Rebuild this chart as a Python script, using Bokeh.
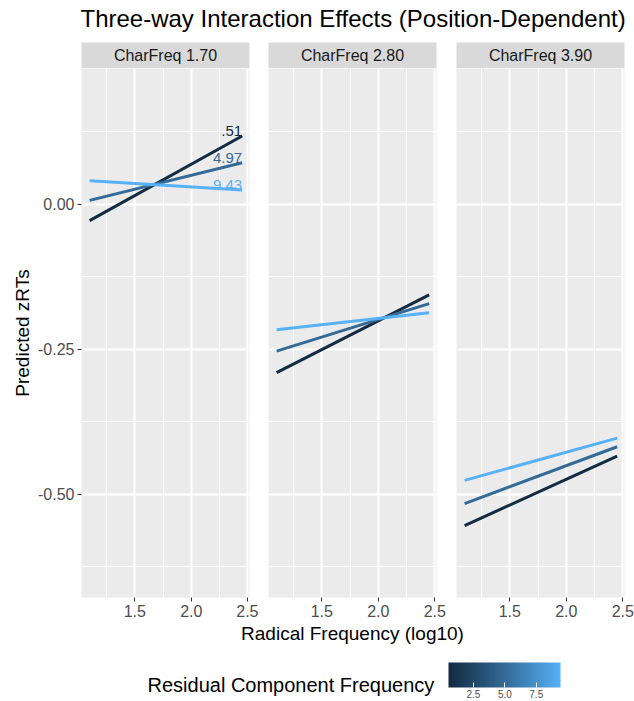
from bokeh.plotting import figure
from bokeh.layouts import column, row
from bokeh.models import (Range1d, FixedTicker, PrintfTickFormatter, ColumnDataSource,
                          LinearColorMapper, ColorBar, Label)
from bokeh.core.properties import value
from bokeh.embed import file_html
from bokeh.resources import INLINE

# ---------------- data ----------------
title_text = "Three-way Interaction Effects (Position-Dependent)"
panel_names = ["CharFreq 1.70", "CharFreq 2.80", "CharFreq 3.90"]
resid_levels = [0.51, 4.97, 9.43]
resid_labels = [".51", "4.97", "9.43"]
radical_freq = [1.10, 2.45]          # x at line start / end
# predicted zRTs at radical_freq, rows = residual level 0.51, 4.97, 9.43
pred_cf170 = [[-0.028, 0.118], [0.007, 0.072], [0.041, 0.025]]
pred_cf280 = [[-0.290, -0.156], [-0.253, -0.171], [-0.216, -0.187]]
pred_cf390 = [[-0.554, -0.434], [-0.516, -0.418], [-0.476, -0.403]]
x_ticks = [1.5, 2.0, 2.5]
x_minor = [1.25, 1.75, 2.25]
y_ticks = [0.0, -0.25, -0.5]
y_minor = [0.125, -0.125, -0.375, -0.625]
legend_ticks = [2.5, 5.0, 7.5]

FONT = "Liberation Sans"

# ---------------- colour scale (Lab interpolation like ggplot) ----------------
Xn, Yn, Zn = 0.95047, 1.0, 1.08883


def hex_to_lab(h):
    r, g, b = [int(h[i:i + 2], 16) / 255 for i in (1, 3, 5)]

    def lin(c):
        return c / 12.92 if c <= 0.04045 else ((c + 0.055) / 1.055) ** 2.4
    r, g, b = lin(r), lin(g), lin(b)
    X = 0.4124 * r + 0.3576 * g + 0.1805 * b
    Y = 0.2126 * r + 0.7152 * g + 0.0722 * b
    Z = 0.0193 * r + 0.1192 * g + 0.9505 * b

    def f(t):
        return t ** (1 / 3) if t > 0.008856 else 7.787 * t + 16 / 116
    fx, fy, fz = f(X / Xn), f(Y / Yn), f(Z / Zn)
    return 116 * fy - 16, 500 * (fx - fy), 200 * (fy - fz)


def lab_to_hex(L, a, b):
    fy = (L + 16) / 116
    fx = fy + a / 500
    fz = fy - b / 200

    def finv(t):
        return t ** 3 if t ** 3 > 0.008856 else (t - 16 / 116) / 7.787
    X, Y, Z = finv(fx) * Xn, finv(fy) * Yn, finv(fz) * Zn
    r = 3.2406 * X - 1.5372 * Y - 0.4986 * Z
    g = -0.9689 * X + 1.8758 * Y + 0.0415 * Z
    bb = 0.0557 * X - 0.2040 * Y + 1.0570 * Z

    def gam(c):
        c = 12.92 * c if c <= 0.0031308 else 1.055 * c ** (1 / 2.4) - 0.055
        return max(0, min(255, round(c * 255)))
    return "#%02x%02x%02x" % (gam(r), gam(g), gam(bb))


lo, hi = hex_to_lab("#132B43"), hex_to_lab("#56B1F7")
palette = [lab_to_hex(*[lo[k] + (hi[k] - lo[k]) * i / 255 for k in range(3)]) for i in range(256)]
mapper = LinearColorMapper(palette=palette, low=min(resid_levels), high=max(resid_levels))

# ---------------- geometry ----------------
FRAME_W, FRAME_H = 168, 529
BOTTOM = 26
borders = [(81, 9), (10, 10), (10, 10)]
X_RANGE = (1.028, 2.515)
Y_RANGE = (-0.678, 0.2345)


def style_blank(p):
    p.xaxis.visible = False
    p.yaxis.visible = False
    p.xgrid.visible = False
    p.ygrid.visible = False
    p.outline_line_color = None


# ---------------- header ----------------
header = figure(frame_width=634, frame_height=42, x_range=Range1d(0, 634), y_range=Range1d(42, 0),
                output_backend="svg", toolbar_location=None,
                min_border_left=0, min_border_right=0, min_border_top=0, min_border_bottom=0)
style_blank(header)
header.add_layout(Label(x=80, y=18, text=title_text, text_align="left", text_baseline="middle",
                        text_font=FONT, text_font_size="24px", text_color="black"))

# ---------------- strips & panels ----------------
strips, panels = [], []
all_preds = [pred_cf170, pred_cf280, pred_cf390]
for i, (name, preds) in enumerate(zip(panel_names, all_preds)):
    bl, br = borders[i]
    s = figure(frame_width=FRAME_W, frame_height=26, x_range=Range1d(0, 1), y_range=Range1d(0, 1),
               output_backend="svg", toolbar_location=None,
               min_border_left=bl, min_border_right=br, min_border_top=0, min_border_bottom=0)
    style_blank(s)
    s.background_fill_color = "#D9D9D9"
    s.add_layout(Label(x=0.5, y=0.5, text=name, text_align="center", text_baseline="middle",
                       text_font=FONT, text_font_size="16px", text_color="#1A1A1A"))
    strips.append(s)

    p = figure(frame_width=FRAME_W, frame_height=FRAME_H,
               x_range=Range1d(*X_RANGE), y_range=Range1d(*Y_RANGE),
               output_backend="svg", toolbar_location=None,
               min_border_left=bl, min_border_right=br, min_border_top=0, min_border_bottom=BOTTOM)
    p.background_fill_color = "#EBEBEB"
    p.border_fill_color = "white"
    p.outline_line_color = None

    src = ColumnDataSource(dict(xs=[radical_freq] * len(preds), ys=preds, resid=resid_levels,
                                xe=[radical_freq[-1]] * len(preds), ye=[r[-1] for r in preds],
                                lab=resid_labels))
    p.multi_line("xs", "ys", source=src, line_width=3,
                 line_color={"field": "resid", "transform": mapper})
    if i == 0:
        p.text("xe", "ye", text="lab", source=src, text_align="right", text_baseline="alphabetic",
               y_offset=-5, text_font_size="15px", text_font=value(FONT),
               text_color={"field": "resid", "transform": mapper})

    # grids
    p.xgrid.ticker = FixedTicker(ticks=x_ticks, minor_ticks=x_minor)
    p.ygrid.ticker = FixedTicker(ticks=y_ticks, minor_ticks=y_minor)
    for g in (p.xgrid, p.ygrid):
        g.grid_line_color = "white"
        g.grid_line_width = 2
        g.minor_grid_line_color = "white"
        g.minor_grid_line_width = 1

    # axes
    p.xaxis.ticker = FixedTicker(ticks=x_ticks)
    p.xaxis.formatter = PrintfTickFormatter(format="%.1f")
    p.yaxis.ticker = FixedTicker(ticks=y_ticks)
    p.yaxis.formatter = PrintfTickFormatter(format="%.2f")
    for ax in (p.xaxis, p.yaxis):
        ax.axis_line_color = None
        ax.major_tick_line_color = "#333333"
        ax.major_tick_out = 4
        ax.major_tick_in = 0
        ax.minor_tick_line_color = None
        ax.major_label_text_font = FONT
        ax.major_label_text_font_size = "16px"
        ax.major_label_text_color = "#4D4D4D"
        ax.major_label_standoff = 3
        ax.axis_label_text_font = FONT
        ax.axis_label_text_font_size = "19px"
        ax.axis_label_text_font_style = "normal"
        ax.axis_label_text_color = "black"
        ax.axis_label_standoff = 2
    if i == 0:
        p.yaxis.axis_label = "Predicted zRTs"
    else:
        p.yaxis.visible = False
    panels.append(p)

# ---------------- bottom: x-axis title + legend ----------------
LEG_H = 701 - 42 - 26 - FRAME_H - BOTTOM
leg = figure(frame_width=634, frame_height=LEG_H, x_range=Range1d(0, 634), y_range=Range1d(LEG_H, 0),
             output_backend="svg", toolbar_location=None,
             min_border_left=0, min_border_right=0, min_border_top=0, min_border_bottom=0)
style_blank(leg)
leg.add_layout(Label(x=352, y=10, text="Radical Frequency (log10)", text_align="center",
                     text_baseline="middle", text_font=FONT, text_font_size="19px",
                     text_color="black"))
leg.add_layout(Label(x=147, y=61, text="Residual Component Frequency", text_align="left",
                     text_baseline="middle", text_font=FONT, text_font_size="20px",
                     text_color="black"))
cb = ColorBar(color_mapper=mapper, orientation="horizontal", width=112, height=25,
              location=(448, 1), padding=0, margin=0,
              ticker=FixedTicker(ticks=legend_ticks), formatter=PrintfTickFormatter(format="%.1f"),
              major_tick_line_color="white", major_tick_in=5, major_tick_out=0,
              minor_tick_line_color=None, bar_line_color=None,
              major_label_text_font=FONT, major_label_text_font_size="10px",
              major_label_text_color="#4D4D4D", label_standoff=2,
              background_fill_color=None, border_line_color=None)
leg.add_layout(cb, "center")

layout = column(header, row(*strips), row(*panels), leg)
open("out.html", "w").write(file_html(layout, INLINE))
